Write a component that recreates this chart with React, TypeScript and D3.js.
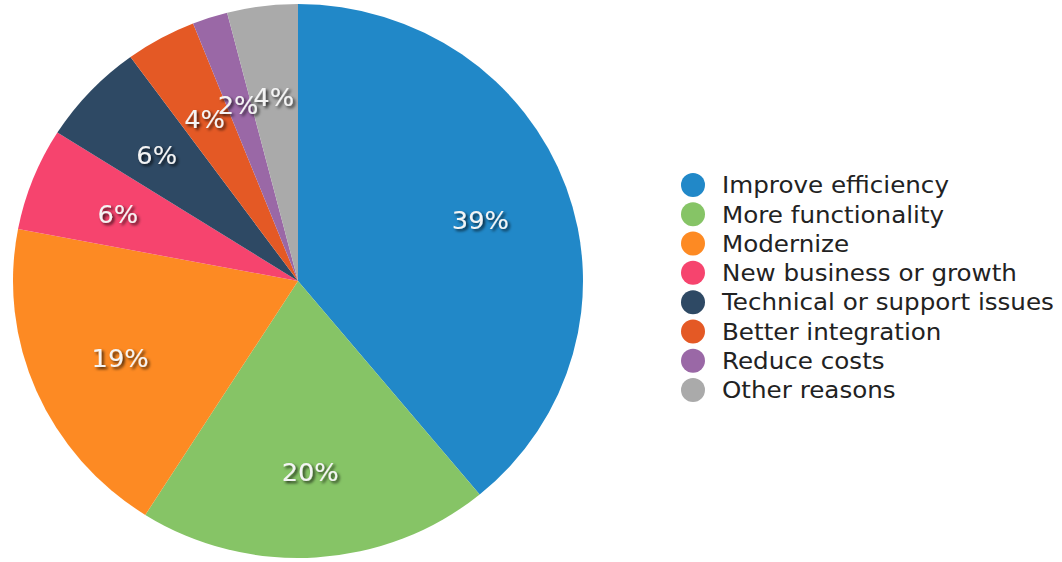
import React from "react";
import * as d3 from "d3";

const categories = [
  "Improve efficiency",
  "More functionality",
  "Modernize",
  "New business or growth",
  "Technical or support issues",
  "Better integration",
  "Reduce costs",
  "Other reasons",
];
const values = [39, 20, 19, 6, 6, 4, 2, 4];
const colors = [
  "#2188c8",
  "#86c466",
  "#fd8a23",
  "#f6446e",
  "#2e4964",
  "#e45925",
  "#9a68a6",
  "#aaaaaa",
];

const W = 1062;
const H = 562;
const cx = 298;
const cy = 281;
const R = 277;
const sx = 285 / 277;
const textSx = 1.07;

export default function App() {
  const data = categories.map((c, i) => ({ c, v: values[i], color: colors[i] }));
  const pie = d3
    .pie<any>()
    .value((d) => d.v)
    .sort(null);
  const arcs = pie(data);
  const arc = d3.arc<any>().innerRadius(0).outerRadius(R);
  const labelArc = d3.arc<any>().innerRadius(R * 0.68).outerRadius(R * 0.68);
  const total = d3.sum(values);
  const legendY = d3.scaleLinear().domain([0, categories.length - 1]).range([185, 390]);

  return (
    <svg
      width={W}
      height={H}
      style={{ position: "absolute", left: 0, top: 0, background: "#fff" }}
      fontFamily="'DejaVu Sans', Verdana, sans-serif"
    >
      <defs>
        <filter id="sh" x="-30%" y="-30%" width="160%" height="160%">
          <feDropShadow dx="2" dy="2" stdDeviation="1.6" floodColor="#000" floodOpacity="0.75" />
        </filter>
      </defs>
      <g transform={`translate(${cx},${cy}) scale(${sx},1)`}>
        {arcs.map((a, i) => (
          <path key={i} d={arc(a) as string} fill={a.data.color} />
        ))}
      </g>
      {arcs.map((a, i) => {
        const [x, y] = labelArc.centroid(a);
        return (
          <g key={i} transform={`translate(${cx + x * sx},${cy + y + 3}) scale(${textSx},1)`}>
            <text
              x={0}
              y={0}
              fill="#f4f4f4"
              fontSize={24}
              textAnchor="middle"
              dy="0.36em"
              filter="url(#sh)"
            >
              {`${Math.round((a.data.v / total) * 100)}%`}
            </text>
          </g>
        );
      })}
      {categories.map((c, i) => (
        <g key={c} transform={`translate(0,${legendY(i)})`}>
          <circle cx={693} cy={0} r={12} fill={colors[i]} />
          <text
            x={0}
            y={0}
            dy="0.36em"
            fontSize={23}
            fill="#222"
            transform={`translate(722,0) scale(${textSx},1)`}
          >
            {c}
          </text>
        </g>
      ))}
    </svg>
  );
}
